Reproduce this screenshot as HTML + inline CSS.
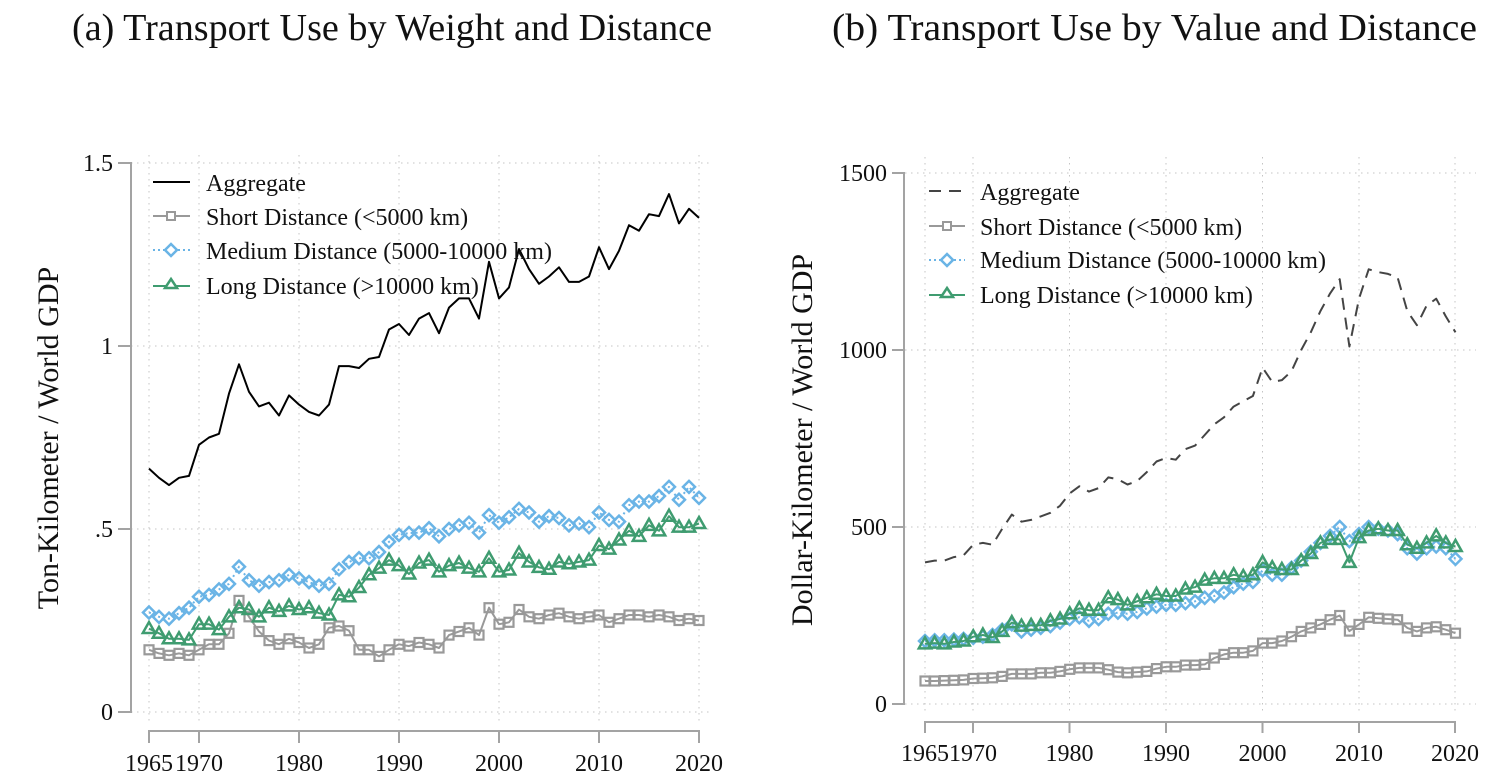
<!DOCTYPE html>
<html>
<head>
<meta charset="utf-8">
<style>
html,body{margin:0;padding:0;background:#fff;}
svg{display:block;}
text{font-family:"Liberation Serif","Times New Roman",serif;fill:#111;}
</style>
</head>
<body>
<svg id="chart" xmlns="http://www.w3.org/2000/svg" width="1492" height="781" viewBox="0 0 1492 781">
<rect x="0" y="0" width="1492" height="781" fill="#fff"/>

<!-- Titles -->
<text x="72" y="40" font-size="38" textLength="640" lengthAdjust="spacingAndGlyphs">(a) Transport Use by Weight and Distance</text>
<text x="832" y="40" font-size="38" textLength="645" lengthAdjust="spacingAndGlyphs">(b) Transport Use by Value and Distance</text>

<!-- LEFT PANEL grid -->
<g stroke="#c4c4c4" stroke-width="1" stroke-dasharray="1.5 4.5" fill="none">
  <line x1="131" y1="163" x2="712" y2="163"/>
  <line x1="131" y1="346" x2="712" y2="346"/>
  <line x1="131" y1="529" x2="712" y2="529"/>
  <line x1="131" y1="712" x2="712" y2="712"/>
  <line x1="149" y1="155" x2="149" y2="722"/>
  <line x1="199" y1="155" x2="199" y2="722"/>
  <line x1="299" y1="155" x2="299" y2="722"/>
  <line x1="399" y1="155" x2="399" y2="722"/>
  <line x1="499" y1="155" x2="499" y2="722"/>
  <line x1="599" y1="155" x2="599" y2="722"/>
  <line x1="699" y1="155" x2="699" y2="722"/>
</g>
<!-- LEFT axes -->
<g stroke="#a3a3a3" stroke-width="2" fill="none">
  <line x1="131" y1="162" x2="131" y2="713"/>
  <line x1="118" y1="163" x2="131" y2="163"/>
  <line x1="118" y1="346" x2="131" y2="346"/>
  <line x1="118" y1="529" x2="131" y2="529"/>
  <line x1="118" y1="712" x2="131" y2="712"/>
  <line x1="148" y1="731" x2="700" y2="731"/>
  <line x1="149" y1="730" x2="149" y2="743"/>
  <line x1="199" y1="730" x2="199" y2="743"/>
  <line x1="299" y1="730" x2="299" y2="743"/>
  <line x1="399" y1="730" x2="399" y2="743"/>
  <line x1="499" y1="730" x2="499" y2="743"/>
  <line x1="599" y1="730" x2="599" y2="743"/>
  <line x1="699" y1="730" x2="699" y2="743"/>
</g>
<g font-size="24" text-anchor="end">
  <text x="113" y="171">1.5</text>
  <text x="113" y="354">1</text>
  <text x="113" y="537">.5</text>
  <text x="113" y="720">0</text>
</g>
<g font-size="24" text-anchor="middle">
  <text x="149" y="771">1965</text>
  <text x="199" y="771">1970</text>
  <text x="299" y="771">1980</text>
  <text x="399" y="771">1990</text>
  <text x="499" y="771">2000</text>
  <text x="599" y="771">2010</text>
  <text x="699" y="771">2020</text>
</g>
<text transform="translate(58,438) rotate(-90)" font-size="30" text-anchor="middle">Ton-Kilometer / World GDP</text>

<!-- RIGHT PANEL grid -->
<g stroke="#c4c4c4" stroke-width="1" stroke-dasharray="1.5 4.5" fill="none">
  <line x1="905" y1="173" x2="1476" y2="173"/>
  <line x1="905" y1="350" x2="1476" y2="350"/>
  <line x1="905" y1="527" x2="1476" y2="527"/>
  <line x1="905" y1="704" x2="1476" y2="704"/>
  <line x1="925" y1="157" x2="925" y2="714"/>
  <line x1="973" y1="157" x2="973" y2="714"/>
  <line x1="1069.5" y1="157" x2="1069.5" y2="714"/>
  <line x1="1166" y1="157" x2="1166" y2="714"/>
  <line x1="1262.5" y1="157" x2="1262.5" y2="714"/>
  <line x1="1359" y1="157" x2="1359" y2="714"/>
  <line x1="1455" y1="157" x2="1455" y2="714"/>
</g>
<g stroke="#a3a3a3" stroke-width="2" fill="none">
  <line x1="904" y1="172" x2="904" y2="705"/>
  <line x1="892" y1="173" x2="904" y2="173"/>
  <line x1="892" y1="350" x2="904" y2="350"/>
  <line x1="892" y1="527" x2="904" y2="527"/>
  <line x1="892" y1="704" x2="904" y2="704"/>
  <line x1="924" y1="722" x2="1456" y2="722"/>
  <line x1="925" y1="721" x2="925" y2="733"/>
  <line x1="973" y1="721" x2="973" y2="733"/>
  <line x1="1069.5" y1="721" x2="1069.5" y2="733"/>
  <line x1="1166" y1="721" x2="1166" y2="733"/>
  <line x1="1262.5" y1="721" x2="1262.5" y2="733"/>
  <line x1="1359" y1="721" x2="1359" y2="733"/>
  <line x1="1455" y1="721" x2="1455" y2="733"/>
</g>
<g font-size="24" text-anchor="end">
  <text x="887" y="181">1500</text>
  <text x="887" y="358">1000</text>
  <text x="887" y="535">500</text>
  <text x="887" y="712">0</text>
</g>
<g font-size="24" text-anchor="middle">
  <text x="925" y="761">1965</text>
  <text x="973" y="761">1970</text>
  <text x="1069.5" y="761">1980</text>
  <text x="1166" y="761">1990</text>
  <text x="1262.5" y="761">2000</text>
  <text x="1359" y="761">2010</text>
  <text x="1455" y="761">2020</text>
</g>
<text transform="translate(812,440) rotate(-90)" font-size="30" text-anchor="middle">Dollar-Kilometer / World GDP</text>

<!-- series container -->
<g id="series"></g>

<!-- LEFT legend -->
<g>
  <line x1="153" y1="182" x2="190" y2="182" stroke="#000" stroke-width="2"/>
  <line x1="153" y1="216" x2="190" y2="216" stroke="#999" stroke-width="2"/>
  <rect x="167" y="212" width="8" height="8" fill="#fff" stroke="#999" stroke-width="2"/>
  <line x1="153" y1="250" x2="190" y2="250" stroke="#6ab4e6" stroke-width="2" stroke-dasharray="2 3"/>
  <polygon points="171,244 177,250 171,256 165,250" fill="#fff" stroke="#6ab4e6" stroke-width="2.5"/>
  <line x1="153" y1="286" x2="190" y2="286" stroke="#3f9c70" stroke-width="2"/>
  <polygon points="171,279 177,288 165,288" fill="#fff" stroke="#3f9c70" stroke-width="2.5"/>
  <g font-size="24">
    <text x="206" y="191">Aggregate</text>
    <text x="206" y="225">Short Distance (&lt;5000 km)</text>
    <text x="206" y="259">Medium Distance (5000-10000 km)</text>
    <text x="206" y="294">Long Distance (&gt;10000 km)</text>
  </g>
</g>
<!-- RIGHT legend -->
<g>
  <line x1="929" y1="191" x2="965" y2="191" stroke="#444" stroke-width="2" stroke-dasharray="12 8"/>
  <line x1="929" y1="226" x2="965" y2="226" stroke="#999" stroke-width="2"/>
  <rect x="943" y="222" width="8" height="8" fill="#fff" stroke="#999" stroke-width="2"/>
  <line x1="929" y1="260" x2="965" y2="260" stroke="#6ab4e6" stroke-width="2" stroke-dasharray="2 3"/>
  <polygon points="947,254 953,260 947,266 941,260" fill="#fff" stroke="#6ab4e6" stroke-width="2.5"/>
  <line x1="929" y1="295" x2="965" y2="295" stroke="#3f9c70" stroke-width="2"/>
  <polygon points="947,288 953,297 941,297" fill="#fff" stroke="#3f9c70" stroke-width="2.5"/>
  <g font-size="24">
    <text x="980" y="200">Aggregate</text>
    <text x="980" y="235">Short Distance (&lt;5000 km)</text>
    <text x="980" y="268">Medium Distance (5000-10000 km)</text>
    <text x="980" y="303">Long Distance (&gt;10000 km)</text>
  </g>
</g>
</svg>
<script>
(function(){
var NS="http://www.w3.org/2000/svg";
var g=document.getElementById("series");
function el(tag,attrs){var e=document.createElementNS(NS,tag);for(var k in attrs)e.setAttribute(k,attrs[k]);g.appendChild(e);return e;}
var LA=[0.665,0.64,0.62,0.64,0.645,0.73,0.75,0.76,0.87,0.95,0.875,0.835,0.845,0.81,0.865,0.84,0.82,0.81,0.84,0.945,0.945,0.94,0.965,0.97,1.045,1.06,1.03,1.075,1.09,1.035,1.105,1.13,1.13,1.075,1.23,1.13,1.16,1.265,1.21,1.17,1.19,1.215,1.175,1.175,1.19,1.27,1.21,1.26,1.33,1.315,1.36,1.355,1.415,1.335,1.375,1.35];
var LS=[.17,.16,.155,.16,.155,.17,.185,.185,.215,.305,.26,.22,.195,.185,.2,.19,.175,.185,.23,.235,.222,.17,.17,.152,.17,.185,.18,.19,.185,.175,.21,.22,.23,.21,.285,.24,.245,.28,.26,.255,.265,.27,.26,.255,.26,.265,.245,.255,.265,.265,.26,.265,.26,.25,.255,.25];
var LM=[.272,.26,.255,.27,.285,.315,.32,.335,.35,.397,.36,.345,.355,.36,.375,.365,.355,.345,.35,.39,.41,.42,.42,.437,.465,.484,.489,.49,.502,.48,.5,.51,.517,.49,.538,.517,.532,.555,.545,.52,.535,.53,.51,.515,.505,.545,.525,.52,.565,.575,.575,.59,.615,.58,.615,.585];
var LL=[.228,.215,.2,.2,.197,.24,.24,.225,.26,.285,.28,.26,.285,.275,.29,.28,.285,.27,.265,.32,.315,.34,.375,.393,.415,.40,.377,.407,.415,.383,.40,.407,.393,.383,.42,.383,.388,.434,.41,.395,.39,.41,.405,.41,.415,.455,.445,.47,.495,.48,.51,.495,.535,.505,.505,.515];
var RA=[400,405,405,415,420,450,455,450,495,535,515,520,530,540,560,595,615,600,610,640,635,620,630,655,685,695,690,720,730,760,790,810,840,855,870,950,910,915,940,1000,1050,1110,1160,1200,1010,1145,1228,1220,1215,1205,1110,1070,1125,1145,1095,1050];
var RS=[65,65,66,67,68,72,73,74,78,85,85,85,88,88,92,98,102,102,102,97,90,88,90,92,100,105,105,110,110,112,130,140,145,145,150,172,172,178,190,205,215,225,238,250,206,225,245,242,240,238,215,205,215,218,210,200];
var RM=[178,180,180,182,184,187,190,195,210,225,205,210,215,220,230,240,245,235,240,255,258,255,260,270,275,280,280,285,290,300,305,315,330,340,345,378,365,365,385,405,430,455,475,500,460,480,500,495,490,480,440,425,440,445,440,410];
var RL=[170,172,170,175,178,190,195,188,205,230,220,222,222,235,240,255,270,265,265,300,295,280,290,300,310,305,305,325,330,350,355,355,365,360,365,400,385,380,380,405,425,455,465,465,400,470,490,495,490,490,450,440,455,475,455,445];
function pts(arr,x0,dx,y0,sy){var p=[];for(var i=0;i<arr.length;i++){p.push([x0+dx*i,y0-sy*arr[i]]);}return p;}
function line(p,color,w,dash){var s=p.map(function(q){return q[0].toFixed(1)+","+q[1].toFixed(1);}).join(" ");var a={points:s,fill:"none",stroke:color,"stroke-width":w,"stroke-linejoin":"round"};if(dash)a["stroke-dasharray"]=dash;el("polyline",a);}
function squares(p){p.forEach(function(q){el("rect",{x:(q[0]-4.5).toFixed(1),y:(q[1]-4.5).toFixed(1),width:9,height:9,fill:"none",stroke:"#999","stroke-width":2.2});});}
function diamonds(p){p.forEach(function(q){var x=q[0],y=q[1];el("polygon",{points:x+","+(y-6)+" "+(x+6)+","+y+" "+x+","+(y+6)+" "+(x-6)+","+y,fill:"none",stroke:"#6ab4e6","stroke-width":2.5});});}
function tris(p){p.forEach(function(q){var x=q[0],y=q[1];el("polygon",{points:x+","+(y-6.5)+" "+(x+6.2)+","+(y+4.5)+" "+(x-6.2)+","+(y+4.5),fill:"none",stroke:"#3f9c70","stroke-width":2.5,"stroke-linejoin":"miter"});});}
// left
var la=pts(LA,149,10,712,366),ls=pts(LS,149,10,712,366),lm=pts(LM,149,10,712,366),ll=pts(LL,149,10,712,366);
line(la,"#000",2);
line(ls,"#999",2);squares(ls);
line(lm,"#6ab4e6",2,"2 3");diamonds(lm);
line(ll,"#3f9c70",2);tris(ll);
// right
var dx=9.645,sy=0.354;
var ra=pts(RA,925,dx,704,sy),rs=pts(RS,925,dx,704,sy),rm=pts(RM,925,dx,704,sy),rl=pts(RL,925,dx,704,sy);
line(ra,"#444",2,"12 8");
line(rs,"#999",2);squares(rs);
line(rm,"#6ab4e6",2,"2 3");diamonds(rm);
line(rl,"#3f9c70",2);tris(rl);
})();
</script>
</body>
</html>
